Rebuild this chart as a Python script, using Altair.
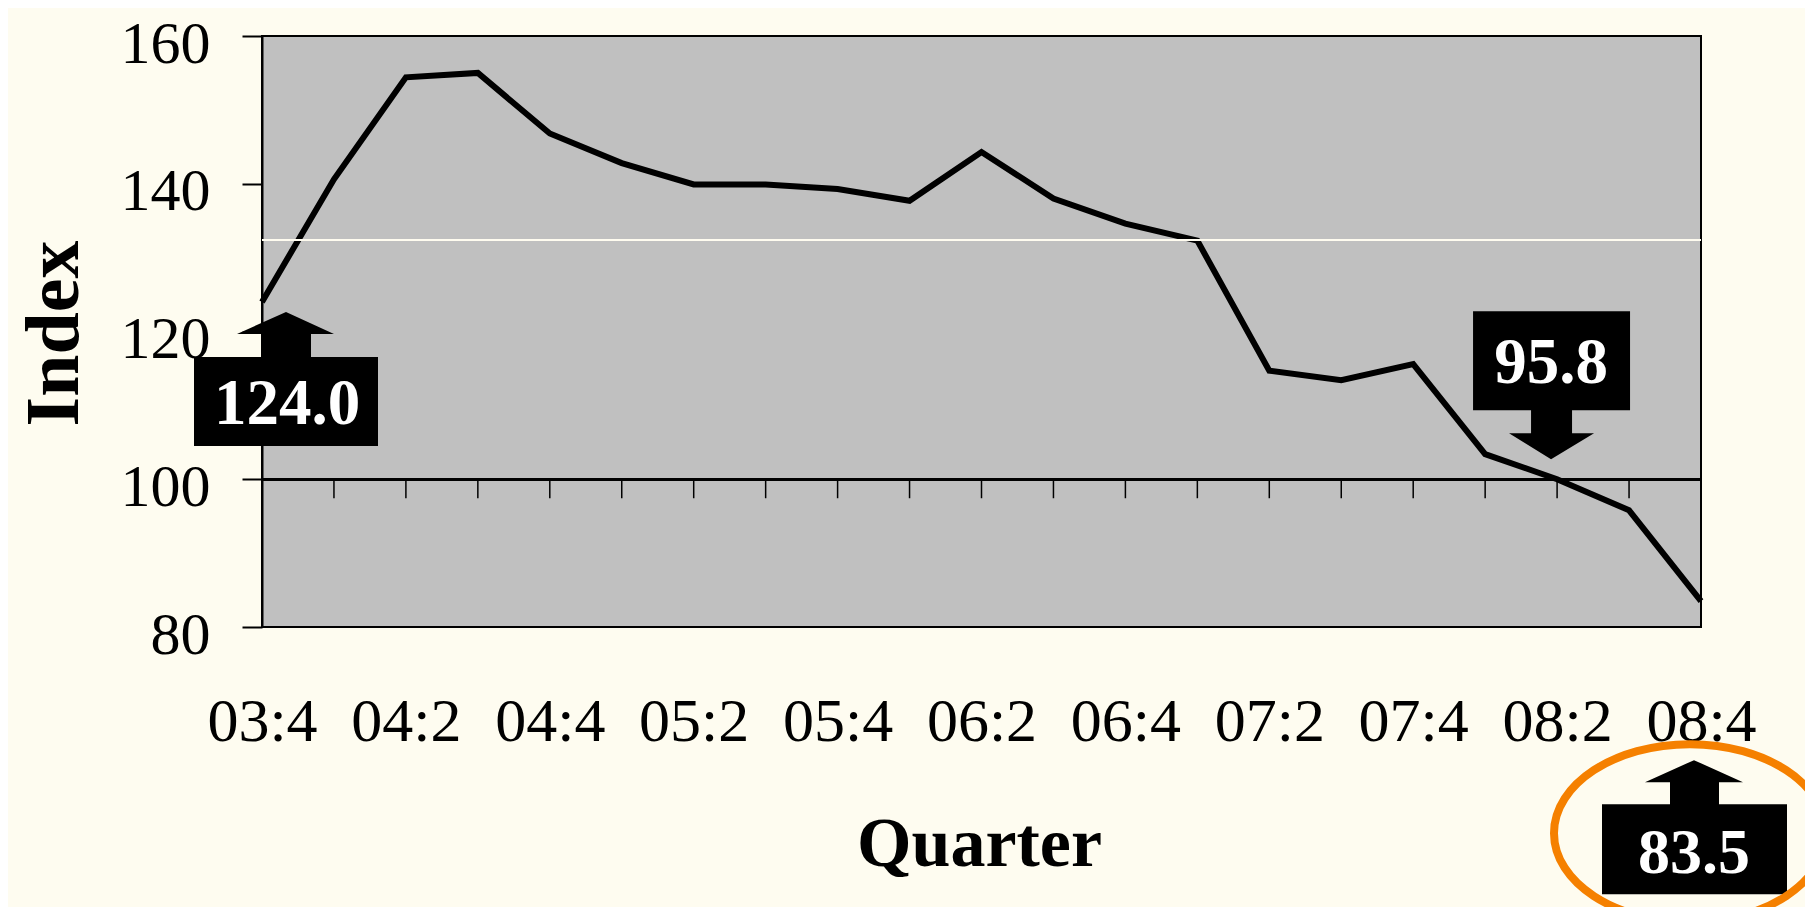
import altair as alt
import pandas as pd

# ---- data ----
quarters = ["03:4", "04:1", "04:2", "04:3", "04:4",
            "05:1", "05:2", "05:3", "05:4",
            "06:1", "06:2", "06:3", "06:4",
            "07:1", "07:2", "07:3", "07:4",
            "08:1", "08:2", "08:3", "08:4"]
index_values = [124.0, 140.6, 154.4, 155.0, 146.8,
                142.8, 139.9, 139.9, 139.3,
                137.7, 144.3, 138.0, 134.6,
                132.3, 114.7, 113.4, 115.6,
                103.4, 100.0, 95.8, 83.5]
label_quarters = quarters[::2]
y_tick_values = [80, 100, 120, 140, 160]
reference_level = 132.4
baseline_level = 100.0
tick_end_level = 97.43

df = pd.DataFrame({"Quarter": quarters, "Index": index_values})
df["base"] = baseline_level
df["tick_end"] = tick_end_level
df["ref"] = reference_level

FONT = "Liberation Serif"
W, H = 1439, 591

x_plain = alt.X("Quarter:O", sort=quarters)
x_main = alt.X(
    "Quarter:O", sort=quarters,
    scale=alt.Scale(type="point", padding=0),
    axis=alt.Axis(
        values=label_quarters, labelAngle=0, labelFont=FONT, labelFontSize=62,
        labelColor="black", labelBaseline="alphabetic", labelPadding=113,
        labelOverlap=False, ticks=False, tickSize=0, domain=False, grid=False,
        title="Quarter", titleFont=FONT, titleFontSize=70, titleFontWeight="bold",
        titleColor="black", titleBaseline="alphabetic", titleAlign="center",
        titleX=717, titleY=238,
    ),
)
y_main = alt.Y(
    "Index:Q",
    scale=alt.Scale(domain=[80, 160], nice=False, zero=False),
    axis=alt.Axis(
        values=y_tick_values, labelFont=FONT, labelFontSize=60, labelColor="black",
        labelBaseline="alphabetic", labelOffset=26, labelPadding=32,
        tickSize=20, tickColor="black", tickWidth=2,
        domainColor="black", domainWidth=2, grid=False,
        title="Index", titleFont=FONT, titleFontSize=76, titleFontWeight="bold",
        titleColor="black", titleAngle=270, titleBaseline="alphabetic",
        titleAlign="center", titleX=-185, titleY=297,
    ),
)
y_plain = alt.Y("Index:Q")

base = alt.Chart(df)

ref_rule = base.mark_rule(color="#FFFDF0", strokeWidth=1.5).encode(
    x=alt.value(0), x2=alt.value(W), y=alt.Y("ref:Q")
)
base_rule = base.mark_rule(color="black", strokeWidth=2.5).encode(
    x=alt.value(0), x2=alt.value(W), y=alt.Y("base:Q")
)
tick_rules = base.mark_rule(color="black", strokeWidth=1.5).encode(
    x=x_plain, y=alt.Y("base:Q"), y2="tick_end:Q"
)
line = base.mark_line(color="black", strokeWidth=6, strokeJoin="miter").encode(
    x=x_main, y=y_main
)

# annotation call-outs (box + arrow), anchored on the data point they label
shape_first = "M-68,55 L-1,55 L-1,32 L-25,32 L24,10 L72,32 L49,32 L49,55 L116,55 L116,144 L-68,144 Z"
shape_mid = "M-156,-199 L1,-199 L1,-100 L-57,-100 L-57,-77 L-35,-77 L-78,-51 L-120,-77 L-98,-77 L-98,-100 L-156,-100 Z"
shape_last = "M-99,203 L-31,203 L-31,181 L-56,181 L-7,159 L42,181 L18,181 L18,203 L86,203 L86,293 L-99,293 Z"
shape_ring = "M-147,232 A136,89 0 1,0 125,232 A136,89 0 1,0 -147,232 Z"


def callout(q, shape, dx, dy, fs):
    sub = base.transform_filter(alt.datum.Quarter == q)
    box = sub.mark_point(shape=shape, size=4, filled=True, color="black",
                         opacity=1, strokeWidth=0).encode(x=x_plain, y=y_plain)
    txt = sub.mark_text(dx=dx, dy=dy, align="center", baseline="alphabetic",
                        font=FONT, fontSize=fs, fontWeight="bold",
                        color="white").encode(
        x=x_plain, y=y_plain, text=alt.Text("Index:Q", format=".1f"))
    return [box, txt]


ring = base.transform_filter(alt.datum.Quarter == quarters[-1]).mark_point(
    shape=shape_ring, size=4, filled=False, color="#F58000", opacity=1,
    strokeWidth=8).encode(x=x_plain, y=y_plain)

layers = [line, ref_rule, base_rule, tick_rules]
layers += callout(quarters[0], shape_first, 25, 122, 65)
layers += callout(quarters[-2], shape_mid, -78, -127, 65)
layers += callout(quarters[-1], shape_last, -7, 272, 64)
layers += [ring]

chart = alt.layer(*layers).properties(
    width=W, height=H,
    padding={"left": 254, "top": 28, "right": 104, "bottom": 280},
    autosize=alt.AutoSizeParams(type="none"),
    background="#FEFCF0",
).configure_view(fill="#C0C0C0", stroke="black", strokeWidth=2)

chart.save("out.html", embed_options={"renderer": "svg", "actions": False})
